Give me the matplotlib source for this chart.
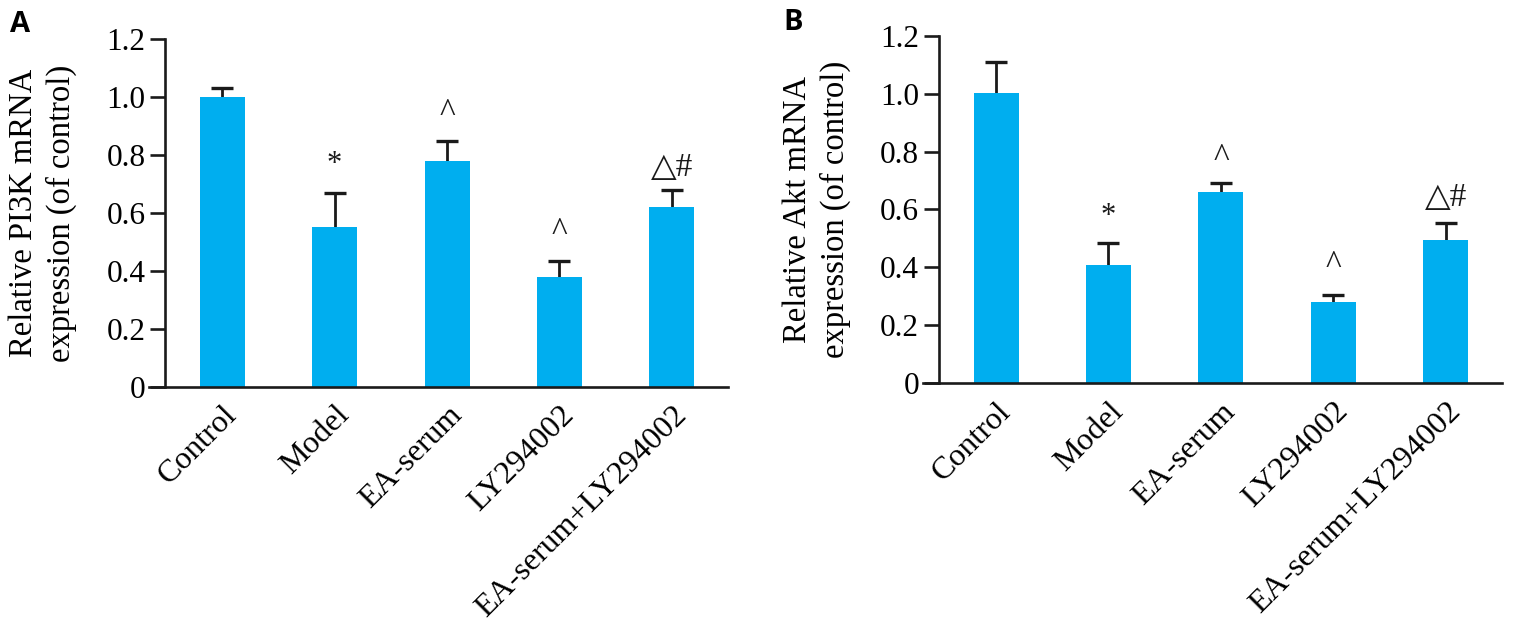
import matplotlib
matplotlib.use("Agg")
import matplotlib.pyplot as plt
import numpy as np

# groups and values
groups = ["Control", "Model", "EA-serum", "LY294002", "EA-serum+LY294002"]

pi3k_mean = [1.00, 0.553, 0.78, 0.38, 0.62]
pi3k_err = [0.03, 0.117, 0.07, 0.056, 0.058]
pi3k_marks = ["", "*", "^", "^", "\u25b3#"]
pi3k_mark_y = [None, 0.766, 0.945, 0.536, 0.756]

akt_mean = [1.003, 0.408, 0.66, 0.28, 0.495]
akt_err = [0.106, 0.076, 0.03, 0.025, 0.06]
akt_marks = ["", "*", "^", "^", "\u25b3#"]
akt_mark_y = [None, 0.575, 0.78, 0.41, 0.64]

y_ticks = [0, 0.2, 0.4, 0.6, 0.8, 1.0, 1.2]
y_tick_labels = ["0", "0.2", "0.4", "0.6", "0.8", "1.0", "1.2"]

bar_color = "#00AEEF"
serif = ["Liberation Serif", "DejaVu Serif"]

fig = plt.figure(figsize=(15.21, 6.23), dpi=100)
ax_a = fig.add_axes([0.098, 0.379, 0.3807, 0.558])
ax_b = fig.add_axes([0.6068, 0.385, 0.3807, 0.5575])


def draw_panel(ax, means, errs, marks, mark_y, ylabel, letter, letter_xy):
    x = np.arange(len(groups))
    # error bars sit under the bars so only the upper half shows
    eb = ax.errorbar(x, means, yerr=[np.zeros(len(errs)), errs], fmt="none",
                     ecolor="#1a1a1a", elinewidth=2.0, capsize=8, capthick=2.4, zorder=1)
    eb[1][0].set_visible(False)  # lower caps
    ax.bar(x, means, width=0.4, color=bar_color, zorder=2)
    for xi, m, my in zip(x, marks, mark_y):
        if m == "*":
            ax.text(xi, my, m, ha="center", va="center", fontsize=22,
                    family=serif, color="#1a1a1a")
        elif m:
            ax.text(xi, my, m, ha="center", va="center", fontsize=24,
                    family=serif + ["DejaVu Sans"], color="#1a1a1a")

    ax.set_xlim(-0.65, 4.5)
    ax.set_ylim(0, 1.2)
    for s in ["top", "right"]:
        ax.spines[s].set_visible(False)
    ax.spines["left"].set_position(("data", -0.51))
    for s in ["left", "bottom"]:
        ax.spines[s].set_linewidth(1.9)
        ax.spines[s].set_color("#1a1a1a")

    ax.set_yticks(y_ticks)
    ax.set_yticklabels(y_tick_labels, family=serif, fontsize=22.5)
    ax.tick_params(axis="y", length=11, width=1.9, color="#1a1a1a", pad=3)
    ax.set_xticks(x)
    ax.set_xticklabels(groups, family=serif, fontsize=23, rotation=45,
                       ha="right", rotation_mode="anchor")
    ax.tick_params(axis="x", length=0, pad=10)

    ax.set_ylabel(ylabel, family=serif, fontsize=23.5, linespacing=1.25)
    ax.yaxis.set_label_coords(-0.125, 0.5)
    fig.text(letter_xy[0], letter_xy[1], letter, family=["Open Sans", "DejaVu Sans"],
             fontweight="bold", fontsize=21, ha="center", va="center")


draw_panel(ax_a, pi3k_mean, pi3k_err, pi3k_marks, pi3k_mark_y,
           "Relative PI3K mRNA\nexpression (of control)", "A", (20 / 1521, 1 - 25 / 623))
draw_panel(ax_b, akt_mean, akt_err, akt_marks, akt_mark_y,
           "Relative Akt mRNA\nexpression (of control)", "B", (793 / 1521, 1 - 23 / 623))

fig.savefig("out.png", dpi=100)
